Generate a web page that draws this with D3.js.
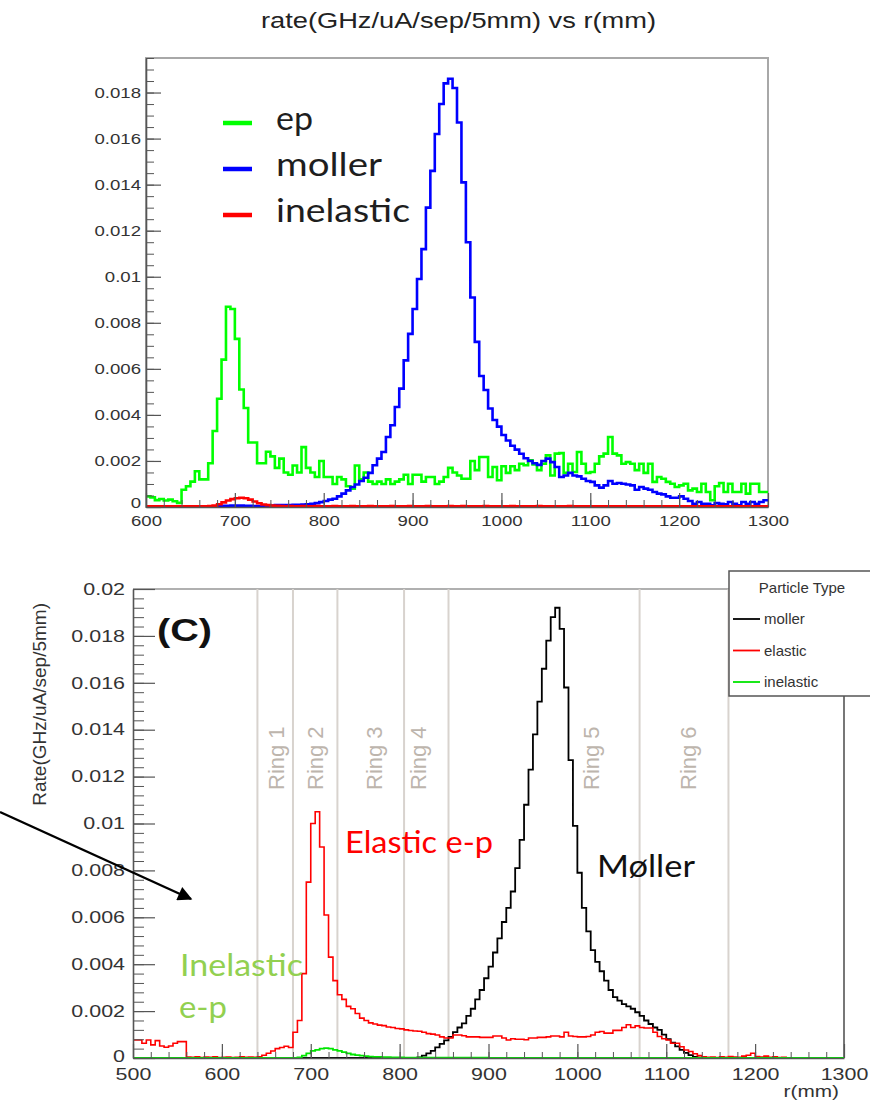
<!DOCTYPE html>
<html>
<head>
<meta charset="utf-8">
<script src="https://cdn.jsdelivr.net/npm/d3@7"></script>
<style>
  html, body { margin: 0; padding: 0; background: #fff; }
  svg { display: block; }
</style>
</head>
<body>
<script>
// ---- upper histogram: 5 mm bins from 600 to 1300 mm
const topStart = 600, topBin = 5;
const topEp = [
  0.00046,0.00042,0.00030,0.00035,0.00028,0.00032,0.00025,0.00018,0.00075,0.00090,
  0.00110,0.00155,0.00120,0.00120,0.00190,0.00330,0.00470,0.00640,0.00870,0.00860,
  0.00730,0.00510,0.00430,0.00280,0.00280,0.00190,0.00190,0.00240,0.00220,0.00170,
  0.00210,0.00150,0.00140,0.00180,0.00150,0.00260,0.00170,0.00150,0.00130,0.00200,
  0.00130,0.00130,0.00100,0.00130,0.00120,0.00090,0.00080,0.00180,0.00120,0.00150,
  0.00110,0.00100,0.00110,0.00100,0.00120,0.00100,0.00110,0.00120,0.00140,0.00100,
  0.00140,0.00140,0.00110,0.00130,0.00130,0.00100,0.00110,0.00130,0.00170,0.00150,
  0.00137,0.00123,0.00123,0.00200,0.00160,0.00217,0.00217,0.00130,0.00174,0.00116,
  0.00177,0.00148,0.00177,0.00160,0.00188,0.00181,0.00203,0.00185,0.00160,0.00188,
  0.00224,0.00137,0.00232,0.00234,0.00148,0.00188,0.00152,0.00239,0.00188,0.00148,
  0.00152,0.00188,0.00220,0.00232,0.00304,0.00232,0.00224,0.00188,0.00195,0.00188,
  0.00160,0.00188,0.00148,0.00188,0.00109,0.00130,0.00123,0.00109,0.00101,0.00087,
  0.00094,0.00101,0.00072,0.00080,0.00065,0.00101,0.00065,0.00029,0.00090,0.00104,
  0.00065,0.00101,0.00065,0.00065,0.00101,0.00058,0.00101,0.00101,0.00065,0.00065
];
const topMoller = [
  0.00002,0.00002,0.00002,0.00002,0.00002,0.00002,0.00002,0.00002,0.00002,0.00002,
  0.00002,0.00002,0.00002,0.00002,0.00002,0.00002,0.00004,0.00005,0.00005,0.00006,
  0.00006,0.00006,0.00005,0.00005,0.00004,0.00004,0.00004,0.00005,0.00006,0.00008,
  0.00008,0.00009,0.00009,0.00010,0.00010,0.00011,0.00012,0.00014,0.00017,0.00021,
  0.00026,0.00032,0.00036,0.00046,0.00058,0.00072,0.00087,0.00098,0.00113,0.00127,
  0.00148,0.00181,0.00210,0.00239,0.00304,0.00355,0.00434,0.00514,0.00637,0.00752,
  0.00860,0.00990,0.01120,0.01300,0.01460,0.01620,0.01750,0.01840,0.01860,0.01820,
  0.01670,0.01410,0.01150,0.00910,0.00717,0.00569,0.00508,0.00428,0.00378,0.00349,
  0.00313,0.00289,0.00266,0.00249,0.00231,0.00212,0.00200,0.00190,0.00183,0.00200,
  0.00210,0.00195,0.00174,0.00130,0.00137,0.00148,0.00137,0.00133,0.00123,0.00113,
  0.00109,0.00094,0.00084,0.00094,0.00113,0.00101,0.00104,0.00101,0.00098,0.00094,
  0.00075,0.00087,0.00080,0.00075,0.00065,0.00058,0.00055,0.00046,0.00040,0.00040,
  0.00046,0.00036,0.00026,0.00014,0.00022,0.00014,0.00014,0.00007,0.00017,0.00014,
  0.00012,0.00022,0.00014,0.00007,0.00022,0.00014,0.00022,0.00014,0.00022,0.00029
];
const topInelastic = [
  0.00003,0.00003,0.00003,0.00003,0.00003,0.00003,0.00003,0.00003,0.00003,0.00003,
  0.00003,0.00003,0.00003,0.00003,0.00004,0.00006,0.00012,0.00020,0.00028,0.00034,
  0.00038,0.00040,0.00038,0.00032,0.00024,0.00016,0.00011,0.00008,0.00006,0.00005,
  0.00004,0.00003,0.00004,0.00003,0.00003,0.00004,0.00003,0.00003,0.00004,0.00003,
  0.00003,0.00003,0.00004,0.00003,0.00003,0.00003,0.00004,0.00003,0.00003,0.00003,
  0.00004,0.00003,0.00003,0.00003,0.00003,0.00004,0.00003,0.00003,0.00003,0.00004,
  0.00003,0.00003,0.00003,0.00004,0.00003,0.00003,0.00003,0.00003,0.00004,0.00003,
  0.00003,0.00004,0.00003,0.00003,0.00003,0.00003,0.00004,0.00003,0.00003,0.00003,
  0.00003,0.00003,0.00004,0.00003,0.00003,0.00003,0.00003,0.00003,0.00004,0.00003,
  0.00003,0.00003,0.00003,0.00003,0.00003,0.00004,0.00003,0.00003,0.00003,0.00003,
  0.00003,0.00003,0.00003,0.00003,0.00003,0.00003,0.00003,0.00003,0.00003,0.00003,
  0.00003,0.00003,0.00003,0.00003,0.00003,0.00003,0.00003,0.00003,0.00003,0.00003,
  0.00003,0.00003,0.00003,0.00003,0.00003,0.00003,0.00003,0.00003,0.00003,0.00003,
  0.00003,0.00003,0.00003,0.00003,0.00003,0.00003,0.00003,0.00003,0.00003,0.00003
];
const topLegend = ["ep", "moller", "inelastic"];
const topTicksY = [0, 0.002, 0.004, 0.006, 0.008, 0.01, 0.012, 0.014, 0.016, 0.018];
const topTicksX = [600, 700, 800, 900, 1000, 1100, 1200, 1300];

// ---- lower histogram: 5 mm bins from 500 to 1300 mm
const botStart = 500, botBin = 5;
const botMoller = [
  0,0,0,0,0,0,0,0,0,0,
  0,0,0,0,0,0,0,0,0,0,
  0,0,0,0,0,0,0,0,0,0,
  0,0,0,0,0,0,0,0,0,0,
  0,0,0,0,0,0,0,0,0,0,
  0,0,0,0,0,0,0,0,0,0,
  0,0,0,0,0.00003,0.00010,0.00020,0.00030,0.00045,0.00060,
  0.00075,0.00090,0.00110,0.00130,0.00148,0.00180,0.00210,0.00250,0.00290,0.00340,
  0.00390,0.00450,0.00510,0.00580,0.00640,0.00710,0.00810,0.00930,0.01080,0.01230,
  0.01380,0.01520,0.01660,0.01780,0.01880,0.01920,0.01830,0.01580,0.01270,0.00990,
  0.00790,0.00640,0.00540,0.00460,0.00410,0.00370,0.00330,0.00290,0.00260,0.00245,
  0.00230,0.00220,0.00210,0.00195,0.00180,0.00160,0.00145,0.00130,0.00120,0.00100,
  0.00080,0.00065,0.00050,0.00035,0.00022,0.00012,0.00005,0.00002,0,0,
  0,0,0,0,0,0,0,0,0,0,
  0,0,0,0,0,0,0,0,0,0,
  0,0,0,0,0,0,0,0,0,0
];
const botElastic = [
  0.00077,0.00077,0.00063,0.00077,0.00056,0.00074,0.00051,0.00046,0.00051,0.00063,
  0.00070,0.00070,0.00004,0.00003,0.00005,0.00002,0.00004,0.00003,0.00005,0.00002,
  0.00003,0.00004,0.00002,0.00003,0.00005,0.00003,0.00004,0.00003,0.00005,0.00012,
  0.00020,0.00030,0.00040,0.00045,0.00050,0.00045,0.00110,0.00160,0.00360,0.00750,
  0.01000,0.01050,0.00900,0.00610,0.00430,0.00330,0.00270,0.00250,0.00220,0.00210,
  0.00190,0.00170,0.00160,0.00150,0.00145,0.00140,0.00138,0.00132,0.00130,0.00126,
  0.00124,0.00120,0.00117,0.00115,0.00114,0.00110,0.00104,0.00102,0.00098,0.00090,
  0.00085,0.00085,0.00098,0.00098,0.00095,0.00090,0.00090,0.00090,0.00088,0.00088,
  0.00088,0.00094,0.00094,0.00085,0.00077,0.00082,0.00080,0.00080,0.00078,0.00085,
  0.00085,0.00088,0.00088,0.00090,0.00094,0.00094,0.00090,0.00110,0.00094,0.00092,
  0.00090,0.00090,0.00092,0.00098,0.00110,0.00113,0.00106,0.00106,0.00118,0.00118,
  0.00130,0.00142,0.00130,0.00137,0.00130,0.00128,0.00128,0.00110,0.00092,0.00082,
  0.00077,0.00063,0.00063,0.00048,0.00034,0.00028,0.00018,0.00010,0.00005,0.00003,
  0.00004,0.00002,0.00005,0.00003,0.00006,0.00004,0.00003,0.00008,0.00012,0.00020,
  0.00006,0.00004,0.00008,0.00003,0.00005,0.00002,0.00003,0,0,0,
  0,0,0,0,0,0,0,0,0,0
];
const botInelastic = [
  0,0,0,0,0,0,0,0,0,0,
  0,0,0,0,0,0,0,0,0,0,
  0,0,0,0,0,0,0,0,0,0,
  0,0,0,0,0,0,0,0.00003,0.00010,0.00020,
  0.00030,0.00035,0.00040,0.00042,0.00040,0.00035,0.00030,0.00025,0.00020,0.00015,
  0.00012,0.00010,0.00008,0.00006,0.00005,0.00005,0.00004,0.00004,0.00003,0.00003,
  0.00003,0.00002,0.00002,0.00002,0.00002,0.00002,0.00002,0.00002,0.00002,0.00002,
  0.00002,0.00002,0.00002,0.00002,0.00002,0.00002,0.00002,0.00002,0.00002,0.00002,
  0,0,0,0,0,0,0,0,0,0,
  0,0,0,0,0,0,0,0,0,0,
  0,0,0,0,0,0,0,0,0,0,
  0,0,0,0,0,0,0,0,0,0,
  0,0,0,0,0,0,0,0,0,0,
  0,0,0,0,0,0,0,0,0,0,
  0,0,0,0,0,0,0,0,0,0,
  0,0,0,0,0,0,0,0,0,0
];
const botLegend = ["moller", "elastic", "inelastic"];
const botTicksY = [0, 0.002, 0.004, 0.006, 0.008, 0.01, 0.012, 0.014, 0.016, 0.018, 0.02];
const botTicksX = [500, 600, 700, 800, 900, 1000, 1100, 1200, 1300];
const ringEdges = [640, 680, 730, 805, 855, 1070, 1170];
const ringNames = ["Ring 1", "Ring 2", "Ring 3", "Ring 4", "Ring 5", "Ring 6"];
const ringLabelAt = [670, 714, 780, 830, 1024, 1133];

const rootFont = "'Liberation Sans', Arial, Helvetica, sans-serif";
const slideFont = "Lato, 'Open Sans', sans-serif";

const svg = d3.select("body").append("svg")
  .attr("width", 870)
  .attr("height", 1103)
  .attr("viewBox", [0, 0, 870, 1103]);

// step outline like a ROOT "HIST" draw
function stepPoints(values, start, bin) {
  const pts = [];
  values.forEach((v, i) => {
    pts.push([start + i * bin, v], [start + (i + 1) * bin, v]);
  });
  return pts;
}

function drawHist(g, values, start, bin, x, y, color, width) {
  const line = d3.line().x(d => x(d[0])).y(d => y(d[1]));
  g.append("path")
    .attr("d", line(stepPoints(values, start, bin)))
    .attr("fill", "none")
    .attr("stroke", color)
    .attr("stroke-width", width)
    .attr("stroke-linejoin", "miter");
}

const fmt = d => d === 0 ? "0" : String(+d.toFixed(4));

// ROOT style axes: ticks point into the frame, labels stretched a bit wide
function rootAxes(g, x, y, o) {
  const [x0] = x.range();
  const [y0] = y.range();

  g.append("g")
    .attr("transform", `translate(0,${y0})`)
    .attr("color", o.tickColor)
    .call(d3.axisBottom(x).tickValues(o.xMinor).tickSizeInner(-o.xMinorLen).tickSizeOuter(0).tickFormat(""))
    .call(s => s.select(".domain").remove());

  g.append("g")
    .attr("transform", `translate(${x0},0)`)
    .attr("color", o.tickColor)
    .call(d3.axisLeft(y).tickValues(o.yMinor).tickSizeInner(-o.yMinorLen).tickSizeOuter(0).tickFormat(""))
    .call(s => s.select(".domain").remove());

  const gx = g.append("g")
    .attr("transform", `translate(0,${y0})`)
    .attr("color", o.tickColor)
    .call(d3.axisBottom(x).tickValues(o.xTicks).tickSizeInner(-o.xMajorLen).tickSizeOuter(0).tickPadding(o.xPad).tickFormat(d3.format("d")));
  gx.selectAll("line").attr("stroke-width", 1.2);
  gx.select(".domain").attr("stroke-width", 1.6);
  gx.selectAll("text")
    .attr("font-family", rootFont)
    .attr("font-size", o.fontSize)
    .attr("fill", o.labelColor)
    .attr("transform", `scale(${o.sx},1)`);

  const gy = g.append("g")
    .attr("transform", `translate(${x0},0)`)
    .attr("color", o.tickColor)
    .call(d3.axisLeft(y).tickValues(o.yTicks).tickSizeInner(-o.yMajorLen).tickSizeOuter(0).tickPadding(o.yPad).tickFormat(fmt));
  gy.selectAll("line").attr("stroke-width", 1.2);
  gy.select(".domain").attr("stroke-width", 1.6);
  gy.selectAll("text")
    .attr("font-family", rootFont)
    .attr("font-size", o.fontSize)
    .attr("fill", o.labelColor)
    .attr("x", -o.yPad / o.sx)
    .attr("transform", `scale(${o.sx},1)`);
  // the "0" label sits a little above the corner
  gy.selectAll("text").filter(d => d === 0).attr("y", -o.zeroLift);
}

// =================== upper panel ===================
const xTop = d3.scaleLinear().domain([600, 1300]).range([146, 768]);
const yTop = d3.scaleLinear().domain([0, 0.0195]).range([507, 58]);
const gTop = svg.append("g");

svg.append("text")
  .attr("x", 261).attr("y", 28)
  .attr("font-family", rootFont)
  .attr("font-size", 22)
  .attr("fill", "#222")
  .attr("textLength", 395)
  .attr("lengthAdjust", "spacingAndGlyphs")
  .text("rate(GHz/uA/sep/5mm) vs r(mm)");

gTop.append("rect")
  .attr("x", xTop(600)).attr("y", yTop(0.0195))
  .attr("width", xTop(1300) - xTop(600))
  .attr("height", yTop(0) - yTop(0.0195))
  .attr("fill", "none")
  .attr("stroke", "#a8a8a8")
  .attr("stroke-width", 2);

drawHist(gTop, topEp, topStart, topBin, xTop, yTop, "#00ff00", 2.6);
drawHist(gTop, topMoller, topStart, topBin, xTop, yTop, "#0000ff", 2.6);
drawHist(gTop, topInelastic, topStart, topBin, xTop, yTop, "#ff0000", 2.6);

rootAxes(gTop, xTop, yTop, {
  xTicks: topTicksX, yTicks: topTicksY,
  xMinor: d3.range(600, 1301, 20), yMinor: d3.range(0, 40).map(i => i * 0.0005),
  xMajorLen: 14, xMinorLen: 7, yMajorLen: 15, yMinorLen: 8,
  xPad: 8, yPad: 5, fontSize: 15.5, sx: 1.2, zeroLift: 4,
  tickColor: "#555", labelColor: "#333"
});

// slide-style legend over the upper plot
const topColors = ["#00ff00", "#0000ff", "#ff0000"];
const topLegendW = [37, 106, 134];
topLegend.forEach((name, i) => {
  const yy = 123 + i * 46;
  gTop.append("line")
    .attr("x1", 223).attr("x2", 252)
    .attr("y1", yy).attr("y2", yy)
    .attr("stroke", topColors[i])
    .attr("stroke-width", 4.5);
  gTop.append("text")
    .attr("x", 276).attr("y", yy + 7)
    .attr("font-family", slideFont)
    .attr("font-size", 32)
    .attr("fill", "#1e1e1e")
    .attr("textLength", topLegendW[i])
    .attr("lengthAdjust", "spacingAndGlyphs")
    .text(name);
});

// =================== lower panel ===================
const xBot = d3.scaleLinear().domain([500, 1300]).range([133, 844]);
const yBot = d3.scaleLinear().domain([0, 0.02]).range([1058, 589]);
const gBot = svg.append("g");

// frame
gBot.append("line")
  .attr("x1", xBot(500)).attr("x2", xBot(1300))
  .attr("y1", yBot(0.02)).attr("y2", yBot(0.02))
  .attr("stroke", "#b0b0b0").attr("stroke-width", 2);
gBot.append("line")
  .attr("x1", xBot(1300)).attr("x2", xBot(1300))
  .attr("y1", yBot(0.02)).attr("y2", yBot(0))
  .attr("stroke", "#777").attr("stroke-width", 2);

// ring boundaries
gBot.selectAll(".ring")
  .data(ringEdges)
  .join("line")
  .attr("class", "ring")
  .attr("x1", d => xBot(d)).attr("x2", d => xBot(d))
  .attr("y1", yBot(0.02)).attr("y2", yBot(0))
  .attr("stroke", "#d8d3ce")
  .attr("stroke-width", 2);

gBot.selectAll(".ringLabel")
  .data(ringNames)
  .join("text")
  .attr("class", "ringLabel")
  .attr("transform", (d, i) => `translate(${xBot(ringLabelAt[i])},790) rotate(-90)`)
  .attr("font-family", rootFont)
  .attr("font-size", 22)
  .attr("fill", "#bdb5ad")
  .text(d => d);

drawHist(gBot, botMoller, botStart, botBin, xBot, yBot, "#000000", 1.8);
drawHist(gBot, botElastic, botStart, botBin, xBot, yBot, "#ff0000", 1.6);
drawHist(gBot, botInelastic, botStart, botBin, xBot, yBot, "#00e600", 1.8);

rootAxes(gBot, xBot, yBot, {
  xTicks: botTicksX, yTicks: botTicksY,
  xMinor: d3.range(500, 1301, 20), yMinor: d3.range(0, 51).map(i => i * 0.0004),
  xMajorLen: 14, xMinorLen: 6, yMajorLen: 22, yMinorLen: 11,
  xPad: 10, yPad: 8, fontSize: 16.5, sx: 1.3, zeroLift: 2,
  tickColor: "#555", labelColor: "#333"
});

// axis titles
svg.append("text")
  .attr("transform", "translate(839,1097) scale(1.3,1)")
  .attr("text-anchor", "end")
  .attr("font-family", rootFont)
  .attr("font-size", 16)
  .attr("fill", "#333")
  .text("r(mm)");

svg.append("text")
  .attr("transform", "translate(46,603) rotate(-90)")
  .attr("text-anchor", "end")
  .attr("font-family", rootFont)
  .attr("font-size", 19)
  .attr("fill", "#333")
  .text("Rate(GHz/uA/sep/5mm)");

// legend box
const leg = svg.append("g").attr("transform", "translate(729,571)");
leg.append("rect")
  .attr("width", 160).attr("height", 125)
  .attr("fill", "#fff")
  .attr("stroke", "#555")
  .attr("stroke-width", 1.5);
leg.append("text")
  .attr("x", 73).attr("y", 22)
  .attr("text-anchor", "middle")
  .attr("font-family", rootFont)
  .attr("font-size", 15)
  .attr("fill", "#333")
  .text("Particle Type");
const botColors = ["#000000", "#ff0000", "#00e600"];
botLegend.forEach((name, i) => {
  const yy = 48 + i * 31.5;
  leg.append("line")
    .attr("x1", 4).attr("x2", 31)
    .attr("y1", yy).attr("y2", yy)
    .attr("stroke", botColors[i])
    .attr("stroke-width", 1.8);
  leg.append("text")
    .attr("x", 35).attr("y", yy + 5)
    .attr("font-family", rootFont)
    .attr("font-size", 15)
    .attr("fill", "#333")
    .text(name);
});

// slide annotations
const notes = [
  { text: "Elastic e-p", x: 345, y: 853, w: 148, color: "#ff0000" },
  { text: "Møller", x: 597, y: 877, w: 98, color: "#111111" },
  { text: "Inelastic", x: 180, y: 976, w: 123, color: "#92d050" },
  { text: "e-p", x: 179, y: 1018, w: 48, color: "#92d050" }
];
notes.forEach(n => {
  svg.append("text")
    .attr("x", n.x).attr("y", n.y)
    .attr("font-family", slideFont)
    .attr("font-size", 30)
    .attr("fill", n.color)
    .attr("textLength", n.w)
    .attr("lengthAdjust", "spacingAndGlyphs")
    .text(n.text);
});

svg.append("text")
  .attr("x", 157).attr("y", 641)
  .attr("font-family", rootFont)
  .attr("font-weight", "bold")
  .attr("font-size", 31)
  .attr("fill", "#111")
  .attr("textLength", 55)
  .attr("lengthAdjust", "spacingAndGlyphs")
  .text("(C)");

// arrow pointing into the plot
svg.append("defs").append("marker")
  .attr("id", "head")
  .attr("viewBox", "0 0 10 10")
  .attr("refX", 9).attr("refY", 5)
  .attr("markerWidth", 7).attr("markerHeight", 6)
  .attr("markerUnits", "strokeWidth")
  .attr("orient", "auto")
  .append("path")
  .attr("d", "M0,0 L10,5 L0,10 z")
  .attr("fill", "#000");
svg.append("line")
  .attr("x1", 0).attr("y1", 812)
  .attr("x2", 191).attr("y2", 899)
  .attr("stroke", "#000")
  .attr("stroke-width", 2.4)
  .attr("marker-end", "url(#head)");
</script>
</body>
</html>
